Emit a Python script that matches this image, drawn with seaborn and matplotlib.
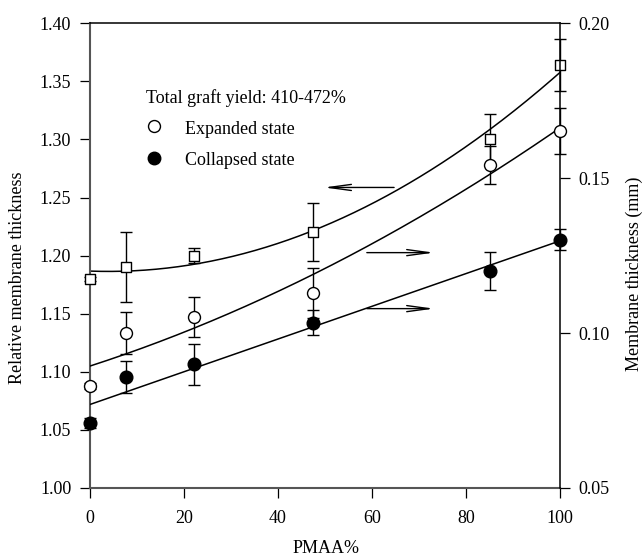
import numpy as np
import pandas as pd
import matplotlib
matplotlib.use("Agg")
import matplotlib.pyplot as plt
from matplotlib.patches import ArrowStyle
import seaborn as sns

# ---------------- data ----------------
pmaa = [0, 7.6, 22.1, 47.5, 85.1, 100]
rel_thick = [1.180, 1.190, 1.200, 1.220, 1.300, 1.364]        # left axis (squares)
rel_err = [0.002, 0.030, 0.0065, 0.025, 0.0215, 0.0223]
exp_thick = [0.0829, 0.1001, 0.1052, 0.1130, 0.1543, 0.1652]  # right axis (open circles)
exp_err = [0.001, 0.0068, 0.0063, 0.0081, 0.0062, 0.0075]
col_thick = [0.0710, 0.0859, 0.0899, 0.1034, 0.1200, 0.1301]  # right axis (filled circles)
col_err = [0.0015, 0.0051, 0.0066, 0.0040, 0.0061, 0.0034]

x_ticks = [0, 20, 40, 60, 80, 100]
left_ticks = [1.00, 1.05, 1.10, 1.15, 1.20, 1.25, 1.30, 1.35, 1.40]
right_ticks = [0.05, 0.10, 0.15, 0.20]

legend_title = "Total graft yield: 410-472%"
series_labels = ["Expanded state", "Collapsed state"]
x_label = "PMAA%"
left_label = "Relative membrane thickness"
right_label = "Membrane thickness (mm)"

# arrows: (x_start, x_end, y on left axis)
arrows = [(64.7, 49.8, 1.2587), (58.9, 73.2, 1.2026), (58.9, 73.2, 1.1544)]

# ---------------- style ----------------
sns.set_theme(style="ticks", rc={"axes.edgecolor": "black", "text.color": "black",
                                 "xtick.color": "black", "ytick.color": "black",
                                 "axes.labelcolor": "black"})
plt.rcParams["font.family"] = ["Liberation Serif", "DejaVu Serif"]

FS = 13
W, H = 643, 558
fig = plt.figure(figsize=(W / 100, H / 100), dpi=100)
L, R, T, B = 90, 560, 23.3, 488
ax = fig.add_axes([L / W, 1 - B / H, (R - L) / W, (B - T) / H])
ax2 = ax.twinx()

df = pd.DataFrame({"pmaa": pmaa, "rel": rel_thick, "rel_err": rel_err,
                   "exp": exp_thick, "exp_err": exp_err,
                   "col": col_thick, "col_err": col_err})

# fitted curves
xs = np.linspace(0, 100, 300)
fit_rel = np.polyval(np.polyfit(df.pmaa, df.rel, 2), xs)
fit_exp = np.polyval(np.polyfit(df.pmaa, df.exp, 2), xs)
fit_col = np.polyval(np.polyfit(df.pmaa, df.col, 1), xs)
sns.lineplot(x=xs, y=fit_rel, ax=ax, color="black", lw=1.1, zorder=2)
sns.lineplot(x=xs, y=fit_exp, ax=ax2, color="black", lw=1.1, zorder=2)
sns.lineplot(x=xs, y=fit_col, ax=ax2, color="black", lw=1.1, zorder=2)

# error bars
eb = dict(fmt="none", ecolor="black", elinewidth=1.0, capsize=4.3, capthick=1.0,
          clip_on=False, zorder=3)
ax.errorbar(df.pmaa, df.rel, yerr=df.rel_err, **eb)
ax2.errorbar(df.pmaa, df.exp, yerr=df.exp_err, **eb)
ax2.errorbar(df.pmaa, df.col, yerr=df.col_err, **eb)

# markers
sns.scatterplot(data=df, x="pmaa", y="rel", ax=ax, marker="s", s=52,
                facecolor="white", edgecolor="black", linewidth=1.0,
                clip_on=False, zorder=5)
sns.scatterplot(data=df, x="pmaa", y="exp", ax=ax2, marker="o", s=74,
                facecolor="white", edgecolor="black", linewidth=1.0,
                clip_on=False, zorder=5)
sns.scatterplot(data=df, x="pmaa", y="col", ax=ax2, marker="o", s=83,
                facecolor="black", edgecolor="black", linewidth=1.0,
                clip_on=False, zorder=5)

# arrows
astyle = ArrowStyle("->", head_length=1.6, head_width=0.22)
for x0, x1, yv in arrows:
    ax.annotate("", xy=(x1, yv), xytext=(x0, yv),
                arrowprops=dict(arrowstyle=astyle, color="black", lw=1.0,
                                shrinkA=0, shrinkB=0, mutation_scale=10))

# axes limits / ticks
ax.set_xlim(0, 100)
ax.set_ylim(1.00, 1.40)
ax2.set_ylim(0.05, 0.20)
ax.set_xticks(x_ticks)
ax.set_xticklabels([f"{v:d}" for v in x_ticks])
ax.set_yticks(left_ticks)
ax.set_yticklabels([f"{v:.2f}" for v in left_ticks])
ax2.set_yticks(right_ticks)
ax2.set_yticklabels([f"{v:.2f}" for v in right_ticks])
ax.set_xlabel("")
ax.set_ylabel("")
ax2.set_xlabel("")
ax2.set_ylabel("")
ax.tick_params(axis="both", direction="out", length=7, width=0.9,
               labelsize=FS, pad=6.5, top=False, right=False)
ax.tick_params(axis="x", pad=9)
ax2.tick_params(axis="y", direction="out", length=7, width=0.9,
                labelsize=FS, pad=6.5)

for s in ["left", "bottom"]:
    ax.spines[s].set_color("#555555")
    ax.spines[s].set_linewidth(1.5)
ax.spines["top"].set_color("black")
ax.spines["top"].set_linewidth(1.1)
ax.spines["top"].set_visible(True)
ax.spines["right"].set_visible(False)
for s in ["left", "bottom", "top"]:
    ax2.spines[s].set_visible(False)
ax2.spines["right"].set_color("black")
ax2.spines["right"].set_linewidth(1.1)
ax2.spines["right"].set_visible(True)

# legend (manual)
ax.text(0.1185, 0.8278, legend_title, transform=ax.transAxes, fontsize=FS,
        ha="left", va="baseline")
ax.plot([0.136], [0.779], transform=ax.transAxes, marker="o", ms=8.6,
        mfc="white", mec="black", mew=1.0, ls="none")
ax.text(0.2021, 0.7618, series_labels[0], transform=ax.transAxes, fontsize=FS,
        ha="left", va="baseline")
ax.plot([0.136], [0.7108], transform=ax.transAxes, marker="o", ms=9.0,
        mfc="black", mec="black", mew=1.0, ls="none")
ax.text(0.2021, 0.6944, series_labels[1], transform=ax.transAxes, fontsize=FS,
        ha="left", va="baseline")

# axis labels
fig.text(18 / W, 1 - 278 / H, left_label, rotation=90, ha="center", va="center",
         fontsize=FS)
fig.text(634 / W, 1 - 274 / H, right_label, rotation=90, ha="center", va="center",
         fontsize=FS)
fig.text(326 / W, 1 - 553 / H, x_label, ha="center", va="baseline", fontsize=FS)

fig.savefig("out.png", dpi=100)
